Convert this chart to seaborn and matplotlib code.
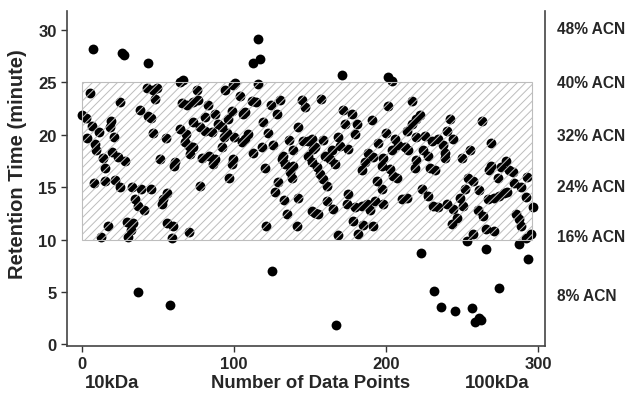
import numpy as np
import pandas as pd
import matplotlib
matplotlib.use("Agg")
import matplotlib.pyplot as plt
import seaborn as sns
from matplotlib.patches import Rectangle

# values
point_index = [
    0, 2.5, 3, 5.1, 6.3, 6.9, 8, 8.4, 8.9, 11, 12.4, 14, 15, 15, 17.2, 18.5, 19, 19.9,
    21.2, 21.6, 23.4, 24.9, 25.1, 26.4, 27.4, 28.2, 29.3, 30.4, 32, 32.6, 33.7, 34.8,
    37, 37, 38, 39, 41, 42.4, 43, 43.3, 45, 45.5, 46.8, 46.8, 47.9, 49, 51.2, 52.3,
    53.5, 55, 55.6, 55.6, 57.8, 58.9, 60, 60.7, 61.3, 64.3, 64.3, 65.5, 66.6, 68.5,
    67.6, 69, 70.3, 70.3, 71, 73.2, 73.2, 73.2, 75.3, 76.4, 77.5, 77.5, 78.6, 80.8,
    80.8, 83, 83.4, 85.2, 86.3, 87.4, 87.4, 89.6, 91.8, 91.8, 93.6, 94, 95, 96.2,
    96.8, 98.4, 98.4, 99.5, 99.5, 100.5, 100, 103.8, 104.9, 106, 107.1, 107.1, 109.3,
    111.5, 112.6, 112.6, 114.1, 115.5, 116, 117, 118.1, 119.2, 120.3, 120.7, 122.5,
    124.2, 124.7, 125.8, 126.8, 128, 129, 130, 131.3, 132.4, 133.4, 133, 134.5, 136,
    136.7, 137.8, 139, 139, 141.1, 142.2, 142.2, 144.4, 145.5, 146.6, 148.8, 148.8,
    151, 151, 152.1, 151.5, 153.2, 153.2, 154.3, 155.4, 156.4, 157, 158.7, 158.7,
    159.7, 160.9, 160.9, 163, 164.1, 165.3, 166.3, 166.8, 168.1, 168.6, 169.6, 170.7,
    171.8, 172.9, 174, 175.1, 175.1, 177.3, 178.4, 179.5, 179.5, 180.6, 181.7, 183.9,
    183.9, 185, 186, 187.2, 188.3, 189.3, 190.5, 191.6, 191.6, 192.6, 193.8, 194.9,
    197, 197, 198.2, 198.2, 199.7, 201, 201.4, 202.5, 203.6, 203.6, 204.7, 205.8,
    206.9, 208, 210.2, 212.4, 213.5, 213.5, 214.6, 216.8, 217.2, 219, 220, 220, 220,
    222.2, 222.9, 223.4, 224.5, 225.5, 227.8, 227.8, 228.8, 230, 231, 231.7, 232.1,
    234.3, 234.3, 236, 237.6, 238.7, 238.7, 239.8, 239.8, 242, 243.1, 244.2, 244.2,
    245.3, 246.4, 248.6, 249.7, 250.8, 251.8, 253, 254, 255.1, 256.3, 257.4, 257.4,
    258.4, 260.2, 261.3, 261.3, 262.4, 262.8, 263.5, 265.7, 265.7, 266.8, 267.9, 269,
    269, 271.2, 271.2, 273.4, 274.5, 274.5, 275.5, 277.3, 278.8, 279.9, 281, 283.2,
    284.3, 285.4, 287.6, 287.6, 288.7, 288.7, 292, 292, 292.6, 293.5, 295.3, 296.4,
]
retention_time = [
    21.9, 21.6, 19.7, 24.0, 20.8, 28.2, 15.4, 19.1, 18.5, 20.3, 10.2, 17.8, 16.8, 15.6,
    11.3, 20.7, 21.3, 18.4, 19.75, 15.7, 17.9, 15.0, 23.1, 27.8, 27.6, 17.5, 11.7, 10.2,
    10.9, 15.0, 11.6, 13.9, 13.2, 5.0, 22.4, 14.8, 12.8, 24.5, 26.8, 21.8, 14.8, 21.6,
    24.3, 20.2, 23.4, 24.5, 17.7, 13.4, 13.9, 19.7, 14.4, 11.6, 3.8, 10.1, 11.3, 17.0,
    17.4, 25.0, 20.5, 23.0, 25.2, 20.1, 19.3, 22.8, 18.9, 10.7, 18.2, 23.1, 21.2, 18.8,
    24.3, 23.3, 20.7, 15.1, 17.8, 21.7, 20.4, 22.8, 18.0, 20.3, 17.2, 22.0, 17.7, 21.0,
    20.7, 18.8, 19.75, 24.3, 20.2, 21.5, 15.9, 22.3, 17.2, 24.7, 17.7, 24.9, 19.75,
    23.7, 19.3, 22.0, 22.2, 19.6, 20.1, 23.2, 26.8, 18.3, 23.1, 29.1, 24.8, 27.2, 18.8,
    21.2, 16.8, 11.3, 20.2, 22.8, 7.0, 19.0, 14.5, 22.0, 15.5, 23.3, 17.7, 18.0, 17.2,
    13.8, 12.4, 19.5, 16.4, 15.9, 18.5, 17.0, 11.3, 20.7, 14.0, 23.3, 19.4, 22.6, 19.4,
    18.0, 17.4, 12.7, 18.6, 19.6, 18.8, 12.5, 16.9, 12.4, 16.3, 23.4, 19.5, 15.8, 18.0,
    15.1, 13.7, 17.7, 18.5, 12.9, 17.2, 1.8, 10.4, 19.75, 18.9, 25.7, 22.4, 21.0, 13.4,
    18.6, 14.3, 22.0, 11.8, 20.1, 13.1, 21.0, 10.5, 16.6, 13.2, 11.4, 17.4, 13.4, 18.3,
    12.8, 21.4, 17.9, 11.3, 13.7, 15.6, 19.2, 17.0, 14.8, 17.8, 13.4, 20.2, 22.7, 25.5,
    16.7, 25.1, 18.5, 16.1, 19.6, 15.9, 19.0, 13.9, 18.8, 20.4, 14.0, 18.5, 21.0, 23.2,
    16.8, 21.5, 19.75, 17.6, 21.9, 8.7, 14.8, 18.5, 19.9, 18.0, 14.2, 16.8, 19.4, 13.2,
    5.1, 16.6, 19.6, 13.1, 3.6, 19.0, 18.3, 17.8, 20.4, 13.4, 21.5, 11.5, 19.6, 12.9,
    3.2, 12.1, 14.0, 17.8, 13.2, 14.8, 9.9, 15.9, 18.5, 3.5, 10.5, 15.6, 2.1, 12.8,
    14.7, 2.5, 2.3, 21.3, 12.2, 11.0, 9.1, 13.9, 16.6, 19.2, 17.0, 14.0, 10.8, 15.9,
    14.2, 5.4, 16.9, 14.4, 17.5, 14.5, 16.6, 16.4, 15.4, 12.4, 12.0, 9.6, 15.0, 11.3,
    14.1, 10.1, 16.0, 8.1, 10.5, 13.1,
]

acn_labels = ["48% ACN", "40% ACN", "32% ACN", "24% ACN", "16% ACN", "8% ACN"]
acn_levels = [30.1, 25.0, 19.9, 15.1, 10.3, 4.7]

# shaded elution window
window_x = (0, 296)
window_y = (10, 25)

df = pd.DataFrame({"index": point_index, "rt": retention_time})

sns.set_style("ticks")
plt.rcParams["font.family"] = ["Liberation Sans", "DejaVu Sans"]
plt.rcParams["font.weight"] = "bold"

fig = plt.figure(figsize=(6.29, 4.02), dpi=100)
ax = fig.add_axes([0.1065, 0.137, 0.76, 0.833])

sns.scatterplot(data=df, x="index", y="rt", color="black", s=50,
                linewidth=0, ax=ax, zorder=2, legend=False)

# hatched box drawn over the points, like the original
plt.rcParams["hatch.color"] = "#b5b5b5"
plt.rcParams["hatch.linewidth"] = 0.7
box = Rectangle((window_x[0], window_y[0]), window_x[1] - window_x[0],
                window_y[1] - window_y[0], facecolor="none",
                edgecolor="#bdbdbd", hatch="////", lw=0.8, zorder=3)
ax.add_patch(box)

ax.set_xlim(-10, 304.6)
ax.set_ylim(-0.15, 31.8)
ax.set_xticks([0, 100, 200, 300])
ax.set_yticks([0, 5, 10, 15, 20, 25, 30])
ax.tick_params(labelsize=12, direction="out", length=4, width=1, color="#333333")
for lab in ax.get_xticklabels() + ax.get_yticklabels():
    lab.set_fontweight("bold")

ax.spines["top"].set_visible(False)
for s in ("left", "bottom", "right"):
    ax.spines[s].set_color("#444444")
    ax.spines[s].set_linewidth(1.2)

ax.set_ylabel("Retention Time (minute)", fontsize=14.5, fontweight="bold")
ax.yaxis.set_label_coords(-0.084, 0.545)
ax.set_xlabel("Number of Data Points", fontsize=13.3, fontweight="bold", va="center")
ax.xaxis.set_label_coords(0.51, -0.108)
ax.text(0.095, -0.108, "10kDa", transform=ax.transAxes, ha="center", va="center",
        fontsize=13.3, fontweight="bold")
ax.text(0.90, -0.108, "100kDa", transform=ax.transAxes, ha="center", va="center",
        fontsize=13.3, fontweight="bold")

for lab, lvl in zip(acn_labels, acn_levels):
    ax.text(1.025, lvl, lab, transform=ax.get_yaxis_transform(), ha="left",
            va="center", fontsize=11.2, fontweight="bold")

fig.savefig("out.png", dpi=100)
